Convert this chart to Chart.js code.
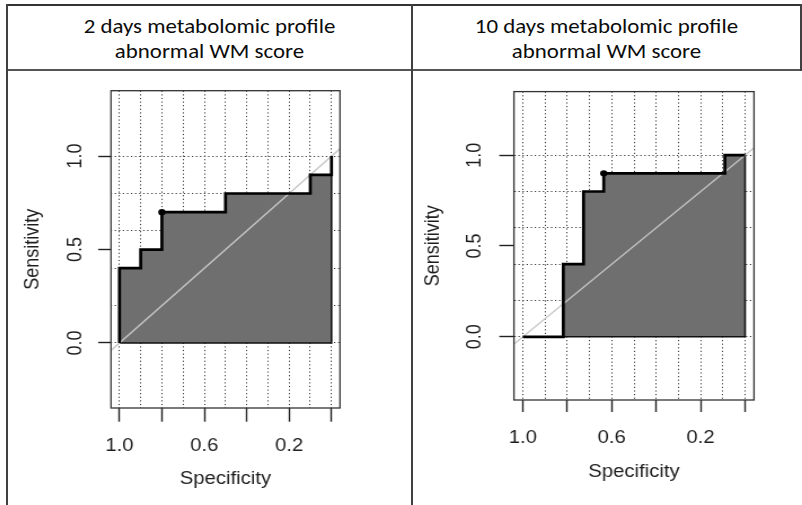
<!doctype html>
<html lang="en">
<head>
    <meta charset="utf-8">
    <title>ROC curves - metabolomic profile</title>
    <script src="https://cdn.jsdelivr.net/npm/chart.js@4.4.1/dist/chart.umd.min.js"></script>
    <style>
        body { margin: 0; background: #fff; width: 802px; height: 505px; overflow: hidden; position: relative; }
        .rule { position: absolute; background: #404040; }
        .head { position: absolute; top: 14px; text-align: center; font-family: Carlito, 'Open Sans', sans-serif;
                font-size: 20.3px; line-height: 25px; color: #0c0c0c; transform: scaleX(1.128); transform-origin: 50% 0; }
        canvas { position: absolute; top: 72px; transform: scaleX(1.128); transform-origin: 0 0; }
    </style>
</head>
<body>

<!-- table frame -->
<div class="rule" style="left:6px; top:4px; width:796px; height:2px; background:#333;"></div>
<div class="rule" style="left:6px; top:69px; width:796px; height:2px; background:#555;"></div>
<div class="rule" style="left:6px; top:4px; width:2px; height:501px;"></div>
<div class="rule" style="left:411px; top:4px; width:2px; height:501px;"></div>
<div class="rule" style="left:800px; top:4px; width:2px; height:67px;"></div>

<div class="head" style="left:8px; width:403px;">2 days metabolomic profile<br>abnormal WM score</div>
<div class="head" style="left:413px; width:387px;">10 days metabolomic profile<br>abnormal WM score</div>

<canvas id="roc2" width="356" height="433" style="left:8px;"></canvas>
<canvas id="roc10" width="341" height="433" style="left:414px;"></canvas>

<script>
    // ROC coordinates (specificity, sensitivity)
    const spec2d = [1.0, 1.0, 0.9, 0.9, 0.8, 0.8, 0.5, 0.5, 0.1, 0.1, 0.0, 0.0];
    const sens2d = [0.0, 0.4, 0.4, 0.5, 0.5, 0.7, 0.7, 0.8, 0.8, 0.9, 0.9, 1.0];
    const best2d = [0.8, 0.7];

    const spec10d = [1.0, 0.818, 0.818, 0.727, 0.727, 0.636, 0.636, 0.091, 0.091, 0.0];
    const sens10d = [0.0, 0.0, 0.4, 0.4, 0.8, 0.8, 0.9, 0.9, 1.0, 1.0];
    const best10d = [0.636, 0.9];

    // chance diagonal (sens = 1 - spec), runs past the frame and gets clipped
    const chanceSpec = [1.2, -0.2];
    const chanceSens = [-0.2, 1.2];

    // axes
    const specGrid = [0, 0.1, 0.2, 0.3, 0.4, 0.5, 0.6, 0.7, 0.8, 0.9, 1.0];
    const specMarks = [0, 0.2, 0.4, 0.6, 0.8, 1.0];
    const specLabels = [1.0, 0.6, 0.2];
    const sensTicks = [0, 0.2, 0.4, 0.5, 0.6, 0.8, 1.0];
    const sensGrid = [0, 0.2, 0.4, 0.6, 0.8, 1.0];
    const sensLabels = [0, 0.5, 1.0];

    const CLEAR = 'rgba(0,0,0,0)';
    const has = (arr, v) => arr.some(a => Math.abs(a - v) < 1e-6);

    Chart.defaults.font.family = "'Liberation Sans', Arial, sans-serif";
    Chart.defaults.color = '#1e1e1e';

    const framePlugin = {
        id: 'frame',
        afterDatasetsDraw(chart) {
            const a = chart.chartArea, ctx = chart.ctx;
            ctx.save();
            ctx.strokeStyle = '#333';
            ctx.lineWidth = 1.3;
            ctx.strokeRect(a.left, a.top, a.right - a.left, a.bottom - a.top);
            ctx.restore();
        }
    };

    function pts(xs, ys) {
        return xs.map((x, i) => ({x: x, y: ys[i]}));
    }

    function makeRoc(id, spec, sens, best, g) {
        const roc = pts(spec, sens);
        const n = spec.length - 1;
        const outline = [{x: spec[n], y: sens[n]}, {x: spec[n], y: 0}, {x: spec[0], y: 0}];

        return new Chart(document.getElementById(id), {
            type: 'scatter',
            data: {
                datasets: [
                    {label: 'AUC', data: roc, showLine: true, fill: 'origin', backgroundColor: '#6f6f6f',
                        borderWidth: 0, pointRadius: 0, order: 5},
                    {label: 'AUC edge', data: outline, showLine: true, borderColor: '#111', borderWidth: 1.6,
                        pointRadius: 0, fill: false, order: 4},
                    {label: 'chance', data: pts(chanceSpec, chanceSens), showLine: true, borderColor: '#c6c6c6',
                        borderWidth: 1.4, pointRadius: 0, fill: false, order: 3},
                    {label: 'ROC', data: roc, showLine: true, borderColor: '#000', borderWidth: 2.7,
                        pointRadius: 0, fill: false, order: 2},
                    {label: 'best', data: [{x: best[0], y: best[1]}], pointRadius: 3.2,
                        pointBackgroundColor: '#000', pointBorderWidth: 0, order: 1}
                ]
            },
            options: {
                responsive: false,
                animation: false,
                devicePixelRatio: 1,
                layout: {padding: {top: g.padTop, right: g.padRight, bottom: 0, left: 0}},
                plugins: {legend: {display: false}, tooltip: {enabled: false}},
                scales: {
                    x: {
                        type: 'linear', position: 'bottom', reverse: true, min: -0.04, max: 1.04,
                        afterBuildTicks: s => { s.ticks = specGrid.map(v => ({value: v})); },
                        afterFit: s => { s.height = g.xHeight; },
                        grid: {
                            color: '#383838', lineWidth: 1,
                            tickLength: g.xTick, tickWidth: 1.4, tickBorderDash: [],
                            tickColor: c => has(specMarks, c.tick.value) ? '#222' : CLEAR
                        },
                        border: {display: false, dash: [1.2, 2.4]},
                        ticks: {
                            autoSkip: false, minRotation: 0, maxRotation: 0, padding: g.xLabPad,
                            font: {size: 18}, color: '#1e1e1e',
                            callback: v => has(specLabels, v) ? v.toFixed(1) : ''
                        },
                        title: {display: true, text: 'Specificity', font: {size: 18}, color: '#1e1e1e',
                            padding: {top: 0, bottom: g.xTitlePad}}
                    },
                    y: {
                        type: 'linear', position: 'left', min: -0.348, max: 1.35,
                        afterBuildTicks: s => { s.ticks = sensTicks.map(v => ({value: v})); },
                        afterFit: s => { s.width = g.yWidth; },
                        grid: {
                            color: c => has(sensGrid, c.tick.value) ? '#383838' : CLEAR, lineWidth: 1,
                            tickLength: g.yTick, tickWidth: 1.4, tickBorderDash: [],
                            tickColor: c => has(sensLabels, c.tick.value) ? '#222' : CLEAR
                        },
                        border: {display: false, dash: [1.2, 2.4]},
                        ticks: {
                            autoSkip: false, minRotation: 90, maxRotation: 90, crossAlign: 'center',
                            padding: g.yLabPad, font: {size: 18}, color: '#1e1e1e',
                            callback: v => has(sensLabels, v) ? v.toFixed(1) : ''
                        },
                        title: {display: true, text: 'Sensitivity', font: {size: 18}, color: '#1e1e1e',
                            padding: {top: g.yTitlePad, bottom: 0}}
                    }
                }
            },
            plugins: [framePlugin]
        });
    }

    makeRoc('roc2', spec2d, sens2d, best2d, {
        padTop: 17, padRight: 61.7, yWidth: 91.3, xHeight: 97,
        yTick: 11.3, xTick: 13.7, yLabPad: 7.9, xLabPad: 13.6, yTitlePad: 11.1, xTitlePad: 14.8
    });
    makeRoc('roc10', spec10d, sens10d, best10d, {
        padTop: 9, padRight: 39.6, yWidth: 88.6, xHeight: 105,
        yTick: 13, xTick: 12, yLabPad: 8.8, xLabPad: 14.9, yTitlePad: 5.8, xTitlePad: 22.5
    });
</script>
</body>
</html>
